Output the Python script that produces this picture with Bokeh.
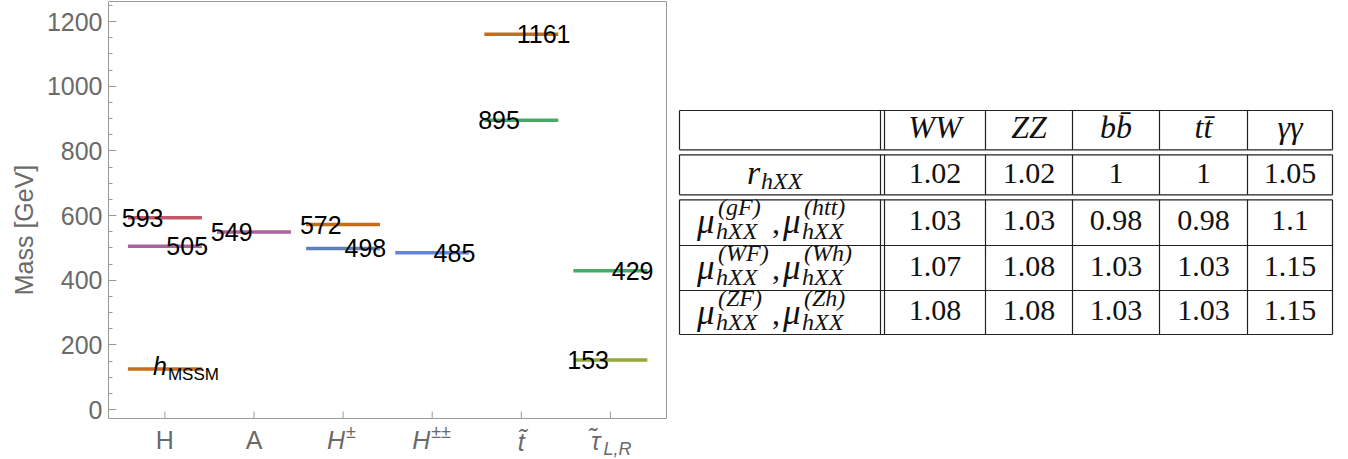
from bokeh.plotting import figure
from bokeh.models import Range1d, SingleIntervalTicker, Title
from bokeh.layouts import row
from bokeh.embed import file_html
from bokeh.resources import INLINE
from bokeh.core.properties import value
import numpy as np

# ---------------- data ----------------
categories = ["H", "A", "H±", "H±±", "t̃", "τ̃L,R"]
category_pos = [1, 2, 3, 4, 5, 6]

level_category = [1, 1, 2, 3, 3, 4, 5, 5, 6, 6]
level_mass = [593, 505, 549, 572, 498, 485, 1161, 895, 429, 153]
level_colors = ["#c45868", "#a8649f", "#a8649f", "#c56e1a", "#5e81b5",
                "#6685d9", "#c56e1a", "#4aa964", "#4aa964", "#95a83a"]
label_side = [-1, 1, -1, -1, 1, 1, 1, -1, 1, -1]

hmssm_category = 1
hmssm_mass = 125
hmssm_color = "#c56e1a"

channels = ["WW", "ZZ", "bb\u0304", "tt\u0304", "γγ"]
r_hXX = [1.02, 1.02, 1, 1, 1.05]
mu_gF_htt = [1.03, 1.03, 0.98, 0.98, 1.1]
mu_WF_Wh = [1.07, 1.08, 1.03, 1.03, 1.15]
mu_ZF_Zh = [1.08, 1.08, 1.03, 1.03, 1.15]
mu_sups = [("(gF)", "(htt)"), ("(WF)", "(Wh)"), ("(ZF)", "(Zh)")]

# ---------------- chart ----------------
GRAY = "#6a6a6a"
AX = "#9a9a9a"
SANS = "Liberation Sans"

# plot box (the framed area) in data units; the figure extends below it for tick labels
box_x0, box_x1 = 0.367, 6.63
box_y0, box_y1 = -27.8, 1262.0

p = figure(frame_width=559, frame_height=459, min_border_left=108,
           min_border_right=0, min_border_top=0, min_border_bottom=0,
           x_range=Range1d(box_x0, 6.641), y_range=Range1d(-154.6, 1265),
           x_axis_location=None, toolbar_location=None, output_backend="svg")
p.grid.visible = False
p.outline_line_color = None
p.background_fill_color = "white"

p.yaxis.bounds = (box_y0, box_y1)
p.yaxis.ticker = SingleIntervalTicker(interval=200, num_minor_ticks=4)
p.yaxis.major_label_text_font = SANS
p.yaxis.major_label_text_font_size = "25px"
p.yaxis.major_label_text_color = GRAY
p.yaxis.major_label_standoff = 6
p.yaxis.major_tick_in = 8
p.yaxis.major_tick_out = 0
p.yaxis.minor_tick_in = 4
p.yaxis.minor_tick_out = 0
p.yaxis.axis_line_color = AX
p.yaxis.major_tick_line_color = AX
p.yaxis.minor_tick_line_color = AX

# y-axis title, centred on the framed box rather than on the whole figure height
p.add_layout(Title(text="Mass [GeV]", align="center", offset=19, standoff=11,
                   text_font=SANS, text_font_size="25px", text_font_style="normal",
                   text_color=GRAY), "left")

# frame: bottom, top, right edges
p.segment(x0=[box_x0, box_x0, box_x1], x1=[box_x1, box_x1, box_x1],
          y0=[box_y0, box_y1, box_y0], y1=[box_y0, box_y1, box_y1],
          line_color=AX, line_width=1)
# x ticks (pointing inwards, 7 px)
tick_len = 7 / 0.32333
p.segment(x0=category_pos, x1=category_pos, y0=[box_y0] * 6,
          y1=[box_y0 + tick_len] * 6, line_color=AX, line_width=1)

half = 0.415
cats = np.array(level_category, dtype=float)
mass = np.array(level_mass, dtype=float)
p.segment(x0=[hmssm_category - half], x1=[hmssm_category + half],
          y0=[hmssm_mass], y1=[hmssm_mass], line_color=hmssm_color, line_width=3.5)
p.segment(x0=cats - half, x1=cats + half, y0=mass, y1=mass,
          line_color=level_colors, line_width=3.5)

p.text(x=cats + 0.25 * np.array(label_side), y=mass, text=[str(m) for m in level_mass],
       text_align="center", text_baseline="middle",
       text_font=value(SANS), text_font_size="25px", text_color="black")

p.text(x=[hmssm_category], y=[hmssm_mass], text=["h"], x_offset=-12, y_offset=-3,
       text_align="left", text_baseline="middle", text_font=value(SANS),
       text_font_style="italic", text_font_size="25px", text_color="black")
p.text(x=[hmssm_category], y=[hmssm_mass], text=["MSSM"], x_offset=3, y_offset=5,
       text_align="left", text_baseline="middle", text_font=value(SANS),
       text_font_size="17px", text_color="black")


def tick_label(x, text, xo, yo, size="25px", align="center", style="normal"):
    p.text(x=[x], y=[box_y0], text=[text], x_offset=xo, y_offset=yo,
           text_align=align, text_baseline="middle",
           text_font=value(SANS), text_font_size=size,
           text_font_style=style, text_color=GRAY)


tick_label(category_pos[0], categories[0], 0, 21)
tick_label(category_pos[1], categories[1], 0, 21)
tick_label(category_pos[2], "H", 2, 21, align="right", style="italic")
tick_label(category_pos[2], "±", 3, 13, size="18px", align="left")
tick_label(category_pos[3], "H", -2, 21, align="right", style="italic")
tick_label(category_pos[3], "±±", -1, 13, size="18px", align="left")
tick_label(category_pos[4], "t\u0303", 0, 23, style="italic")
tick_label(category_pos[5], "τ\u0303", -10, 22, align="right", style="italic")
tick_label(category_pos[5], "L,R", -7, 30, size="18px", align="left", style="italic")

# ---------------- table ----------------
SERIF = "Liberation Serif"
LINE = "#222222"
INK = "#111111"
t = figure(frame_width=673, frame_height=459, min_border=0,
           x_range=Range1d(667, 1340), y_range=Range1d(459, 0),
           x_axis_location=None, y_axis_location=None,
           toolbar_location=None, output_backend="svg")
t.grid.visible = False
t.outline_line_color = None

col_x = [679, 880, 884, 985, 1072, 1159, 1247, 1332]
row_y = [110, 149.3, 154.3, 194.3, 199.3, 245, 290, 334]
bands = [(110, 149.3), (154.3, 194.3), (199.3, 334)]

t.segment(x0=[col_x[0]] * len(row_y), x1=[col_x[-1]] * len(row_y),
          y0=row_y, y1=row_y, line_color=LINE, line_width=1.2)
vx, va, vb = [], [], []
for a, b in bands:
    for x in col_x:
        vx.append(x); va.append(a); vb.append(b)
t.segment(x0=vx, x1=vx, y0=va, y1=vb, line_color=LINE, line_width=1.2)

val_cx = [(col_x[i] + col_x[i + 1]) / 2 for i in range(2, 7)]
first_cx = (col_x[0] + col_x[1]) / 2

t.text(x=val_cx, y=[126] * 5, text=channels, text_align="center",
       text_baseline="middle", text_font=value(SERIF), text_font_style="italic",
       text_font_size="32px", text_color=INK)

row_centers = [172.5, 220, 265.5, 310]
for rc, vals in zip(row_centers, [r_hXX, mu_gF_htt, mu_WF_Wh, mu_ZF_Zh]):
    t.text(x=val_cx, y=[rc] * 5, text=["{:g}".format(v) for v in vals],
           text_align="center", text_baseline="middle", text_font=value(SERIF),
           text_font_size="30px", text_color=INK)


def ttext(x, y, s, size, style="italic"):
    t.text(x=[x], y=[y], text=[s], text_align="left", text_baseline="middle",
           text_font=value(SERIF), text_font_style=style, text_font_size=size,
           text_color=INK)


# r_{hXX}
ttext(first_cx - 33, 172, "r", "34px")
ttext(first_cx - 19, 180, "hXX", "24px")

# mu rows
tops = [199.3, 245, 290]
for T, (s1, s2) in zip(tops, mu_sups):
    L = first_cx - 83
    ttext(L, T + 21.5, "μ", "35px")
    ttext(L + 21, T + 7.5, s1, "24px")
    ttext(L + 19, T + 31.5, "hXX", "24px")
    ttext(L + 75, T + 22.5, ",", "32px", style="normal")
    ttext(L + 86, T + 21.5, "μ", "35px")
    ttext(L + 107, T + 7.5, s2, "24px")
    ttext(L + 105, T + 31.5, "hXX", "24px")

layout = row(p, t)
open("out.html", "w").write(file_html(layout, INLINE))
